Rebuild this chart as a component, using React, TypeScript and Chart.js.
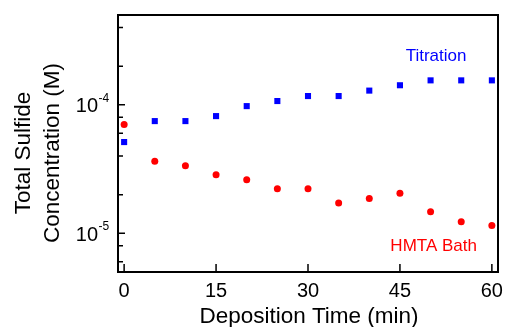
import React, { useEffect, useRef } from "react";
import { Chart, registerables } from "chart.js";

Chart.register(...registerables);

const times = [0, 5, 10, 15, 20, 25, 30, 35, 40, 45, 50, 55, 60];
const titration = [5.13e-5, 7.47e-5, 7.47e-5, 8.17e-5, 9.77e-5, 1.07e-4, 1.17e-4, 1.17e-4, 1.29e-4, 1.42e-4, 1.55e-4, 1.55e-4, 1.55e-4];
const hmtaBath = [7.04e-5, 3.63e-5, 3.36e-5, 2.86e-5, 2.61e-5, 2.22e-5, 2.22e-5, 1.72e-5, 1.87e-5, 2.05e-5, 1.47e-5, 1.23e-5, 1.15e-5];

const xTicks = [0, 15, 30, 45, 60];
const yMajorTicks = [1e-5, 1e-4];
const yMajorExp = ["-5", "-4"];
const yMinorTicks = [6e-6, 8e-6, 2e-5, 4e-5, 6e-5, 8e-5, 2e-4, 4e-4];

const xTitle = "Deposition Time (min)";
const yTitle = ["Total Sulfide", "Concentration (M)"];

const seriesLabels = ["Titration", "HMTA Bath"];
const labelAt = [
  { x: 50.9, y: 2.2e-4 },
  { x: 50.5, y: 7.3e-6 },
];

const FONT = '"Liberation Sans", Arial, Helvetica, sans-serif';

const decorPlugin = {
  id: "decor",
  afterDatasetsDraw(chart: any) {
    const { ctx, chartArea, scales } = chart;
    const { left, right, top, bottom } = chartArea;
    const xs = scales.x;
    const ys = scales.y;
    ctx.save();
    // frame
    ctx.strokeStyle = "#000";
    ctx.lineWidth = 2;
    ctx.strokeRect(left, top, right - left, bottom - top);

    // inward ticks
    ctx.lineWidth = 1.5;
    ctx.beginPath();
    xs.ticks.forEach((t: any) => {
      const px = xs.getPixelForValue(t.value);
      ctx.moveTo(px, bottom);
      ctx.lineTo(px, bottom - 8);
    });
    ys.ticks.forEach((t: any) => {
      const py = ys.getPixelForValue(t.value);
      const major = yMajorTicks.includes(t.value);
      ctx.moveTo(left, py);
      ctx.lineTo(left + (major ? 7 : 5), py);
    });
    ctx.stroke();

    // x tick labels
    ctx.fillStyle = "#000";
    ctx.font = `20px ${FONT}`;
    ctx.textAlign = "center";
    ctx.textBaseline = "alphabetic";
    xs.ticks.forEach((t: any) => {
      const px = xs.getPixelForValue(t.value);
      ctx.fillText(String(t.value), px, 297);
    });

    // y tick labels with superscript
    yMajorTicks.forEach((v, i) => {
      const py = ys.getPixelForValue(v);
      ctx.font = `20px ${FONT}`;
      ctx.textAlign = "right";
      ctx.fillText("10", 98, py + 7.5);
      ctx.font = `12px ${FONT}`;
      ctx.textAlign = "left";
      ctx.fillText(yMajorExp[i], 98.5, py - 3);
    });

    // x title
    ctx.font = `22.5px ${FONT}`;
    ctx.textAlign = "center";
    ctx.fillText(xTitle, (left + right) / 2 + 1, 323);

    // y title (rotated)
    ctx.save();
    ctx.translate(0, 153);
    ctx.rotate(-Math.PI / 2);
    ctx.textAlign = "center";
    ctx.fillText(yTitle[0], 0, 30);
    ctx.fillText(yTitle[1], 0, 59);
    ctx.restore();

    // series labels
    ctx.font = `17px ${FONT}`;
    ctx.textAlign = "center";
    ctx.fillStyle = "#0000FF";
    ctx.fillText(seriesLabels[0], xs.getPixelForValue(labelAt[0].x), ys.getPixelForValue(labelAt[0].y));
    ctx.fillStyle = "#FF0000";
    ctx.fillText(seriesLabels[1], xs.getPixelForValue(labelAt[1].x), ys.getPixelForValue(labelAt[1].y));

    ctx.restore();
  },
};

export default function App() {
  const ref = useRef<HTMLCanvasElement | null>(null);

  useEffect(() => {
    if (!ref.current) return;
    const chart = new Chart(ref.current, {
      type: "scatter",
      data: {
        datasets: [
          {
            label: seriesLabels[0],
            data: times.map((t, i) => ({ x: t, y: titration[i] })),
            pointStyle: "rect",
            pointRadius: 4.3,
            pointBorderWidth: 0,
            backgroundColor: "#0000FF",
            borderColor: "#0000FF",
          },
          {
            label: seriesLabels[1],
            data: times.map((t, i) => ({ x: t, y: hmtaBath[i] })),
            pointStyle: "circle",
            pointRadius: 3.5,
            pointBorderWidth: 0,
            backgroundColor: "#FF0000",
            borderColor: "#FF0000",
          },
        ],
      },
      options: {
        animation: false,
        responsive: false,
        devicePixelRatio: 1,
        layout: { padding: { left: 0, top: 15, right: 8, bottom: 0 }, autoPadding: false },
        plugins: { legend: { display: false }, tooltip: { enabled: false } },
        scales: {
          x: {
            type: "linear",
            min: -1,
            max: 61,
            grid: { display: false, drawTicks: false },
            border: { display: false },
            ticks: { display: false },
            afterBuildTicks: (scale: any) => {
              scale.ticks = xTicks.map((v) => ({ value: v }));
            },
            afterFit: (scale: any) => {
              scale.height = 55;
            },
          },
          y: {
            type: "logarithmic",
            min: 5e-6,
            max: 5e-4,
            grid: { display: false, drawTicks: false },
            border: { display: false },
            ticks: { display: false },
            afterBuildTicks: (scale: any) => {
              scale.ticks = [...yMajorTicks, ...yMinorTicks]
                .sort((a, b) => a - b)
                .map((v) => ({ value: v }));
            },
            afterFit: (scale: any) => {
              scale.width = 118;
            },
          },
        },
      } as any,
      plugins: [decorPlugin],
    });
    return () => chart.destroy();
  }, []);

  return (
    <div style={{ position: "absolute", left: 0, top: 0, width: 506, height: 327 }}>
      <canvas ref={ref} width={506} height={327} style={{ display: "block", width: 506, height: 327 }} />
    </div>
  );
}
